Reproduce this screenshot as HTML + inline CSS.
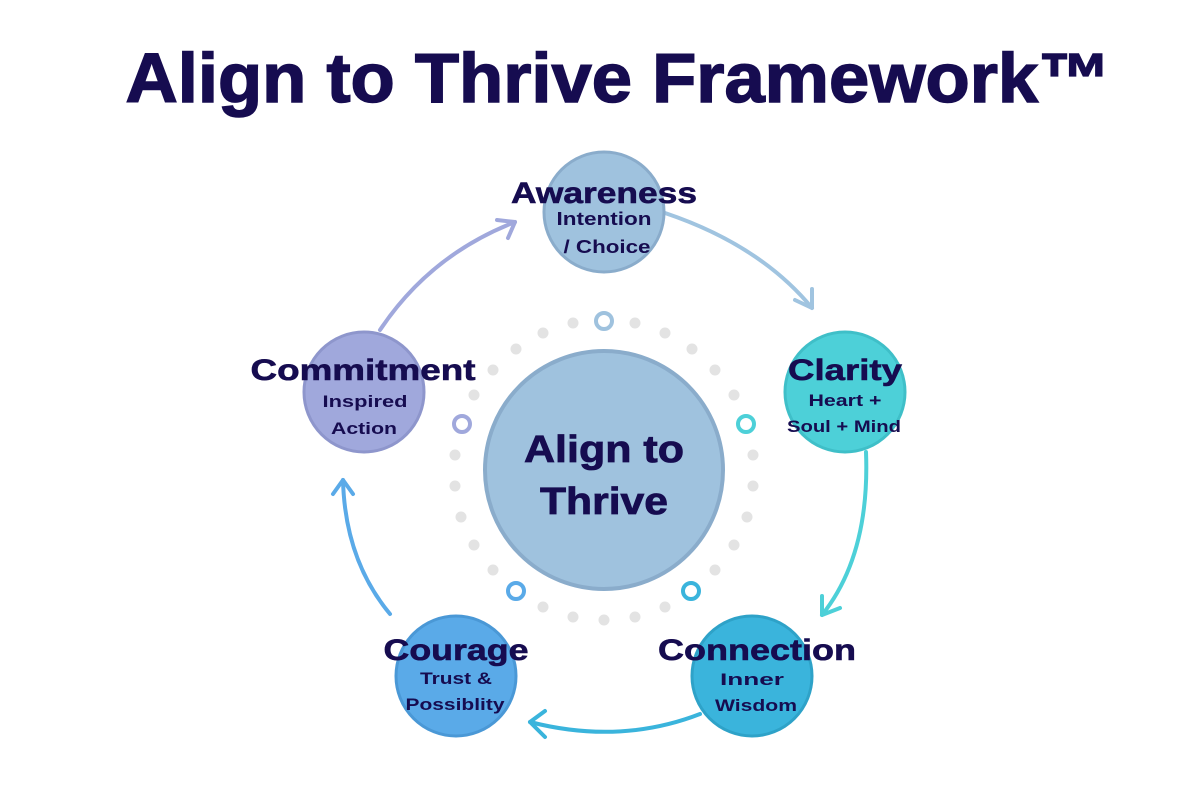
<!DOCTYPE html>
<html><head><meta charset="utf-8"><style>html,body{margin:0;padding:0;background:#fff}svg{display:block}</style></head>
<body>
<svg width="1200" height="800" viewBox="0 0 1200 800" xmlns="http://www.w3.org/2000/svg" font-family="Liberation Sans, sans-serif" font-weight="bold" fill="#160c50">
<text x="618" y="102" font-size="70" text-anchor="middle" textLength="985" lengthAdjust="spacingAndGlyphs" stroke="#160c50" stroke-width="1.5">Align to Thrive Framework™</text>
<g fill="none" stroke-width="4" stroke-linecap="round" stroke-linejoin="round">
<path d="M665 213 Q760 245 812 308" stroke="#a0c4e0"/><path d="M795 300 L812 308 L812 289" stroke="#a0c4e0"/>
<path d="M866 452 Q870 555 822 615" stroke="#4dd0d8"/><path d="M822 596 L822 615 L840 608" stroke="#4dd0d8"/>
<path d="M700 714 Q620 745 530 722" stroke="#3ab4dc"/><path d="M545 711 L530 722 L545 737" stroke="#3ab4dc"/>
<path d="M390 614 Q345 560 343 480" stroke="#5aaae8"/><path d="M333 494 L343 480 L353 494" stroke="#5aaae8"/>
<path d="M380 330 Q430 255 515 222" stroke="#a0a8dc"/><path d="M497 220 L515 222 L508 238" stroke="#a0a8dc"/>
</g>
<circle cx="604" cy="470" r="119" fill="#9fc2de" stroke="#8aaccb" stroke-width="4"/>
<g stroke="#160c50" stroke-width="0.8">
<text x="604" y="462" font-size="38" text-anchor="middle" textLength="160" lengthAdjust="spacingAndGlyphs">Align to</text>
<text x="604" y="514" font-size="38" text-anchor="middle" textLength="128" lengthAdjust="spacingAndGlyphs">Thrive</text>
</g>
<circle cx="604" cy="212" r="60" fill="#9fc2de" stroke="#8aaccb" stroke-width="3"/>
<circle cx="845" cy="392" r="60" fill="#4dd0d8" stroke="#3fbfc8" stroke-width="3"/>
<circle cx="752" cy="676" r="60" fill="#3ab4dc" stroke="#2ea2c8" stroke-width="3"/>
<circle cx="456" cy="676" r="60" fill="#5aaae8" stroke="#4a98d6" stroke-width="3"/>
<circle cx="364" cy="392" r="60" fill="#a0a8dc" stroke="#8e96cc" stroke-width="3"/>
<g text-anchor="middle" lengthAdjust="spacingAndGlyphs">
<g stroke="#160c50" stroke-width="0.6">
<text x="604" y="203" font-size="30" textLength="186" lengthAdjust="spacingAndGlyphs">Awareness</text>
<text x="845" y="380" font-size="30" textLength="114" lengthAdjust="spacingAndGlyphs">Clarity</text>
<text x="757" y="660" font-size="30" textLength="198" lengthAdjust="spacingAndGlyphs">Connection</text>
<text x="456" y="660" font-size="30" textLength="145" lengthAdjust="spacingAndGlyphs">Courage</text>
<text x="363" y="380" font-size="30" textLength="225" lengthAdjust="spacingAndGlyphs">Commitment</text>
</g>
<text x="604" y="225" font-size="18" textLength="95" lengthAdjust="spacingAndGlyphs">Intention</text><text x="607" y="253" font-size="18" textLength="87" lengthAdjust="spacingAndGlyphs">/ Choice</text>
<text x="845" y="406" font-size="17" textLength="73" lengthAdjust="spacingAndGlyphs">Heart +</text><text x="844" y="432" font-size="17" textLength="114" lengthAdjust="spacingAndGlyphs">Soul + Mind</text>
<text x="752" y="685" font-size="17" textLength="64" lengthAdjust="spacingAndGlyphs">Inner</text><text x="756" y="711" font-size="17" textLength="82" lengthAdjust="spacingAndGlyphs">Wisdom</text>
<text x="456" y="684" font-size="17" textLength="72" lengthAdjust="spacingAndGlyphs">Trust &amp;</text><text x="455" y="710" font-size="17" textLength="99" lengthAdjust="spacingAndGlyphs">Possiblity</text>
<text x="365" y="407" font-size="17" textLength="85" lengthAdjust="spacingAndGlyphs">Inspired</text><text x="364" y="434" font-size="17" textLength="66" lengthAdjust="spacingAndGlyphs">Action</text>
</g>
<g fill="#e3e3e3">
<circle cx="573" cy="323" r="5.5"/><circle cx="543" cy="333" r="5.5"/><circle cx="516" cy="349" r="5.5"/><circle cx="493" cy="370" r="5.5"/><circle cx="474" cy="395" r="5.5"/>
<circle cx="635" cy="323" r="5.5"/><circle cx="665" cy="333" r="5.5"/><circle cx="692" cy="349" r="5.5"/><circle cx="715" cy="370" r="5.5"/><circle cx="734" cy="395" r="5.5"/>
<circle cx="455" cy="455" r="5.5"/><circle cx="455" cy="486" r="5.5"/><circle cx="461" cy="517" r="5.5"/><circle cx="474" cy="545" r="5.5"/><circle cx="493" cy="570" r="5.5"/>
<circle cx="753" cy="455" r="5.5"/><circle cx="753" cy="486" r="5.5"/><circle cx="747" cy="517" r="5.5"/><circle cx="734" cy="545" r="5.5"/><circle cx="715" cy="570" r="5.5"/>
<circle cx="543" cy="607" r="5.5"/><circle cx="573" cy="617" r="5.5"/><circle cx="604" cy="620" r="5.5"/><circle cx="635" cy="617" r="5.5"/><circle cx="665" cy="607" r="5.5"/>
</g>
<g fill="none" stroke-width="4">
<circle cx="604" cy="321" r="8" stroke="#9fc2de"/>
<circle cx="746" cy="424" r="8" stroke="#4dd0d8"/>
<circle cx="691" cy="591" r="8" stroke="#3ab4dc"/>
<circle cx="516" cy="591" r="8" stroke="#5aaae8"/>
<circle cx="462" cy="424" r="8" stroke="#a0a8dc"/>
</g>
</svg>
</body></html>
